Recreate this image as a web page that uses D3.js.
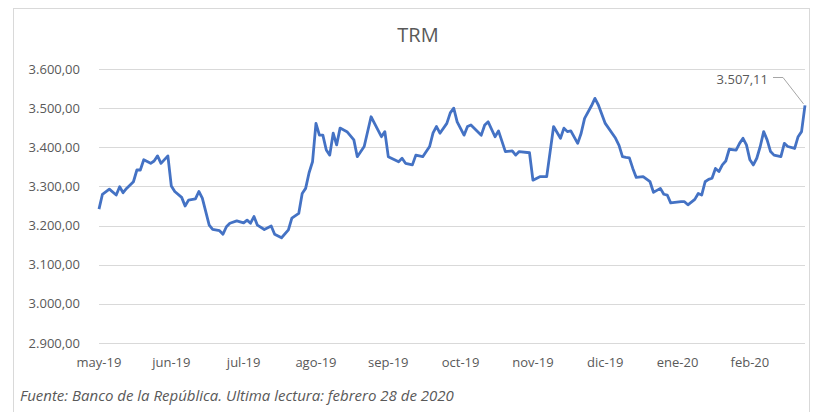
<!DOCTYPE html>
<html>
<head>
<meta charset="utf-8">
<style>
	body { margin: 0; background: white; }
	.grid line { stroke: #d9d9d9; stroke-width: 1; }
	.label { font-family: "Open Sans", sans-serif; font-size: 13px; fill: #595959; }
	.title { font-family: "Open Sans", sans-serif; font-size: 20px; fill: #595959; }
	.note { font-family: "Open Sans", sans-serif; font-size: 15px; font-style: italic; fill: #595959; }
	.trm { fill: none; stroke: #4472c4; stroke-width: 2.8; stroke-linejoin: round; }
</style>
</head>
<body>
<svg width="824" height="412"></svg>

<script src="https://cdn.jsdelivr.net/npm/d3@7"></script>
<script>
const width = 824;
const height = 412;

// trading-day index (0 = first reading in May 2019) and TRM value
const dayIndex = [0, 1, 3, 5, 6, 7, 8, 10, 11, 12, 13, 15, 16, 17, 18, 20, 21, 22, 24, 25,
	26, 28, 29, 30, 32, 33, 35, 36, 37, 38, 40, 42, 43, 44, 45, 46, 48, 50, 51, 53,
	55, 56, 58, 59, 60, 61, 62, 63, 64, 65, 66, 67, 68, 69, 70, 72, 74, 75, 77, 79,
	80, 82, 83, 84, 87, 88, 89, 91, 92, 94, 96, 97, 98, 99, 101, 102, 103, 104, 106, 107,
	108, 111, 112, 113, 115, 116, 118, 120, 121, 122, 125, 126, 128, 130, 132, 134, 135, 136, 137, 139,
	140, 141, 143, 144, 145, 147, 150, 151, 152, 153, 154, 155, 156, 158, 160, 161, 162, 163, 164, 165,
	166, 169, 170, 171, 173, 174, 175, 176, 177, 178, 179, 180, 181, 182, 183, 185, 186, 187, 188, 189,
	190, 191, 192, 193, 194, 195, 196, 198, 199, 200, 202, 203, 204, 205];

const trmValues = [3242, 3280, 3293, 3278, 3299, 3284, 3295, 3312, 3342, 3342, 3368, 3359, 3365, 3378, 3359, 3378, 3301, 3287, 3272, 3250,
	3265, 3268, 3287, 3270, 3201, 3190, 3187, 3178, 3197, 3206, 3212, 3207, 3214, 3206, 3223, 3201, 3190, 3199, 3178, 3169,
	3189, 3219, 3231, 3282, 3295, 3335, 3363, 3461, 3431, 3431, 3393, 3380, 3436, 3406, 3449, 3440, 3419, 3376, 3402, 3478,
	3461, 3427, 3440, 3376, 3363, 3372, 3359, 3355, 3380, 3376, 3402, 3437, 3453, 3436, 3461, 3488, 3500, 3465, 3431, 3453,
	3457, 3431, 3457, 3465, 3427, 3442, 3389, 3391, 3380, 3389, 3386, 3316, 3325, 3325, 3453, 3423, 3449, 3440, 3442, 3410,
	3436, 3474, 3506, 3525, 3508, 3461, 3423, 3405, 3376, 3374, 3373, 3346, 3323, 3325, 3312, 3285, 3290, 3295, 3280, 3278,
	3258, 3261, 3261, 3253, 3267, 3282, 3278, 3312, 3318, 3321, 3346, 3338, 3355, 3365, 3395, 3393, 3410, 3423, 3406, 3368,
	3355, 3372, 3402, 3440, 3419, 3389, 3380, 3376, 3410, 3402, 3397, 3427, 3440, 3507.11];

const monthLabels = ["may-19", "jun-19", "jul-19", "ago-19", "sep-19", "oct-19", "nov-19", "dic-19", "ene-20", "feb-20"];
const monthStart = [0, 21, 42, 63, 84, 105, 126, 147, 168, 189];
const yTicks = [2900, 3000, 3100, 3200, 3300, 3400, 3500, 3600];

const data = dayIndex.map((d, i) => ({ day: d, value: trmValues[i] }));

const svg = d3.select("svg");

// chart frame
svg.append("rect")
	.attr("x", 13.5).attr("y", 8.5)
	.attr("width", 796).attr("height", 430)
	.attr("fill", "white")
	.attr("stroke", "#d9d9d9");

const x = d3.scaleLinear().domain([0, 205]).range([99, 805]);
const y = d3.scaleLinear().domain([2900, 3600]).range([343, 69]);

const fmt = d3.formatLocale({ decimal: ",", thousands: ".", grouping: [3], currency: ["$", ""] }).format(",.2f");

svg.append("g")
	.attr("class", "grid")
	.selectAll("line")
	.data(yTicks)
	.enter()
	.append("line")
		.attr("x1", 99).attr("x2", 805)
		.attr("y1", d => Math.round(y(d)) + 0.5)
		.attr("y2", d => Math.round(y(d)) + 0.5);

svg.append("g")
	.selectAll("text")
	.data(yTicks)
	.enter()
	.append("text")
		.attr("class", "label")
		.attr("x", 80)
		.attr("y", d => y(d) + 4.5)
		.attr("text-anchor", "end")
		.text(d => fmt(d));

svg.append("g")
	.selectAll("text")
	.data(monthLabels)
	.enter()
	.append("text")
		.attr("class", "label")
		.attr("x", (d, i) => x(monthStart[i]))
		.attr("y", 367)
		.attr("text-anchor", "middle")
		.text(d => d);

svg.append("text")
	.attr("class", "title")
	.attr("x", 418).attr("y", 42)
	.attr("text-anchor", "middle")
	.text("TRM");

const line = d3.line()
	.x(d => x(d.day))
	.y(d => y(d.value));

svg.append("path")
	.datum(data)
	.attr("class", "trm")
	.attr("d", line);

// label for the last reading
const last = data[data.length - 1];
svg.append("polyline")
	.attr("points", [[773, 77.5], [783, 77.5], [x(last.day) - 1.5, y(last.value) - 1.5]].join(" "))
	.attr("fill", "none")
	.attr("stroke", "#a6a6a6")
	.attr("stroke-width", 1);

svg.append("text")
	.attr("class", "label")
	.attr("x", 768).attr("y", 84)
	.attr("text-anchor", "end")
	.text(fmt(last.value));

svg.append("text")
	.attr("class", "note")
	.attr("x", 20).attr("y", 401)
	.text("Fuente: Banco de la República. Ultima lectura: febrero 28 de 2020");
</script>
</body>
</html>
